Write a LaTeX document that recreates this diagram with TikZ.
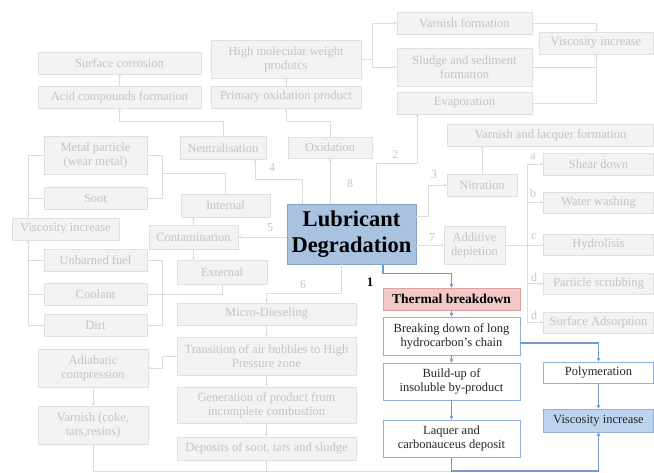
\documentclass[tikz,border=0pt]{standalone}
\usepackage{fontspec}
\setmainfont{Liberation Serif}
\usepackage{tikz}
\usetikzlibrary{arrows.meta}

\definecolor{gfill}{HTML}{F3F3F3}
\definecolor{gdraw}{HTML}{E0E0E0}
\definecolor{gtext}{HTML}{C4C4C4}
\definecolor{gconn}{HTML}{DCDCDC}
\definecolor{lubfill}{HTML}{A8C2E0}
\definecolor{lubdraw}{HTML}{7FA3CD}
\definecolor{thfill}{HTML}{F2C8C8}
\definecolor{thdraw}{HTML}{E0A0A0}
\definecolor{bdraw}{HTML}{8DB1DC}
\definecolor{vfill}{HTML}{BDD3EE}
\definecolor{bconn}{HTML}{6E9BD1}

\begin{document}
\begin{tikzpicture}[x=1pt,y=-1pt,
    sz/.style 2 args={minimum width=#1pt,minimum height=#2pt},
    gbox/.style={draw=gdraw,fill=gfill,text=gtext,align=center,inner sep=1pt,
        font=\fontsize{12.5}{14}\selectfont},
    bbox/.style={draw=bdraw,fill=white,text=black!85,align=center,inner sep=1pt,
        line width=0.8pt,font=\fontsize{12.5}{14}\selectfont},
    gline/.style={draw=gconn,line width=0.8pt},
    garr/.style={gline,-{Stealth[length=3pt,width=3pt]}},
    bline/.style={draw=bconn,line width=1.4pt},
    barr/.style={bline,-{Stealth[length=4pt,width=4pt]}},
    glab/.style={text=gtext,font=\fontsize{12}{14}\selectfont}]
    \useasboundingbox (0,0) rectangle (654,473);

    \node[gbox,sz={163}{22}] (surf) at (119.5,63) {Surface corrosion};
    \node[gbox,sz={163}{22}] (acid) at (119.5,97) {Acid compounds formation};
    \node[gbox,sz={150}{38}] (highmw) at (286,59) {High molecular weight\\produtcs};
    \node[gbox,sz={150}{22}] (primox) at (286,97) {Primary oxidation product};
    \node[gbox,sz={135}{22}] (varnf) at (464.5,23) {Varnish formation};
    \node[gbox,sz={135}{38}] (sludge) at (464.5,67) {Sludge and sediment\\formation};
    \node[gbox,sz={135}{22}] (evap) at (464.5,103) {Evaporation};
    \node[gbox,sz={114}{22}] (visctop) at (596,43) {Viscosity increase};
    \node[gbox,sz={206}{22}] (varlac) at (550.5,135) {Varnish and lacquer formation};

    \node[gbox,sz={103}{38}] (metal) at (95.5,155) {Metal particle\\(wear metal)};
    \node[gbox,sz={103}{22}] (soot) at (95.5,198) {Soot};
    \node[gbox,sz={107}{22}] (viscl) at (65.5,229) {Viscosity increase};
    \node[gbox,sz={103}{22}] (unb) at (95.5,260) {Unbarned fuel};
    \node[gbox,sz={103}{22}] (cool) at (95.5,294) {Coolant};
    \node[gbox,sz={103}{22}] (dirt) at (95.5,325) {Dirt};
    \node[gbox,sz={86}{23}] (neut) at (223,148) {Neutralisation};
    \node[gbox,sz={89}{23}] (internal) at (225.5,205.5) {Internal};
    \node[gbox,sz={89}{24}] (contam) at (193.5,237) {Contamination};
    \node[gbox,sz={90}{24}] (external) at (222,272) {External};
    \node[gbox,sz={84}{21}] (oxid) at (330,147.5) {Oxidation};
    \node[gbox,sz={70}{22}] (nitr) at (482,185) {Nitration};
    \node[gbox,sz={61}{38}] (addit) at (474.5,245) {Additive\\depletion};

    \node[gbox,sz={110}{22}] (shear) at (598.5,164) {Shear down};
    \node[gbox,sz={110}{21}] (water) at (598.5,202.5) {Water washing};
    \node[gbox,sz={110}{21}] (hydro) at (598.5,245) {Hydrolisis};
    \node[gbox,sz={110}{21}] (partic) at (598.5,283.5) {Particle scrubbing};
    \node[gbox,sz={110}{21}] (surfads) at (598.5,322.5) {Surface Adsorption};

    \node[gbox,sz={179}{22}] (micro) at (266.5,314) {Micro-Dieseling};
    \node[gbox,sz={179}{38}] (trans) at (266.5,356) {Transition of air bubbles to High\\Pressure zone};
    \node[gbox,sz={179}{36}] (gener) at (266.5,405) {Generation of product from\\incomplete combustion};
    \node[gbox,sz={179}{23}] (depos) at (266.5,448.5) {Deposits of soot, tars and sludge};
    \node[gbox,sz={110}{38}] (adiab) at (93,368) {Adiabatic\\compression};
    \node[gbox,sz={110}{38}] (varcoke) at (93,425) {Varnish (coke,\\tars,resins)};

    \node[draw=lubdraw,fill=lubfill,line width=0.8pt,align=center,inner sep=1pt,sz={129}{60},
        font=\fontsize{22.5}{26}\selectfont\bfseries] (lub) at (351.5,234) {Lubricant\\Degradation};
    \node[draw=thdraw,fill=thfill,line width=0.8pt,inner sep=1pt,sz={137}{22},
        font=\fontsize{13.5}{15}\selectfont\bfseries] (thermal) at (451.5,299) {Thermal breakdown};
    \node[bbox,sz={137}{38}] (breaking) at (451.5,336) {Breaking down of long\\hydrocarbon's chain};
    \node[bbox,sz={137}{37}] (buildup) at (451.5,381.5) {Build-up of\\insoluble by-product};
    \node[bbox,sz={137}{37}] (laquer) at (451.5,438.5) {Laquer and\\carbonauceus deposit};
    \node[bbox,sz={110}{21}] (polym) at (598.5,372.5) {Polymeration};
    \node[bbox,fill=vfill,sz={110}{23}] (viscb) at (598.5,420.5) {Viscosity increase};

    \coordinate (hm) at (372,59);
    \coordinate (br) at (527,245);
    \coordinate (ms) at (162,173);
    \coordinate (bot) at (0,471);

    \draw[garr] (acid) -- (surf);
    \draw[garr] (neut.north) -- ++(0,-15) -| (acid.south);
    \draw[garr] (primox) -- (highmw);
    \draw[garr] (oxid.north) -- ++(0,-15) -| (primox.south);
    \draw[gline] (highmw.east) -- (hm);
    \draw[garr] (hm) |- (varnf.west);
    \draw[garr] (hm) |- (sludge.west);
    \draw[garr] (varnf.east) -| (visctop.north);
    \draw[gline] (sludge.east) -| (visctop.south);
    \draw[garr] (evap.east) -| (visctop.south);

    \draw[garr] ([xshift=24.5pt]lub.north) -- ++(0,-40) -| ([xshift=-47.5pt]evap.south);
    \draw[garr] ([yshift=18pt]lub.east) -- ++(12,0) |- (nitr.west);
    \draw[garr] (nitr.north) -- (nitr.north |- varlac.south);
    \draw[garr] (lub.east |- addit.west) -- (addit.west);
    \draw[garr] (lub.north -| oxid.south) -- (oxid.south);
    \draw[garr] ([xshift=-49.5pt]lub.north) -- ++(0,-24) -| ([xshift=32pt]neut.south);
    \draw[garr] (lub.west |- contam.east) -- (contam.east);
    \draw[garr] ([xshift=-10.5pt]lub.south) -- ++(0,29) -| (micro.north);

    \draw[gline] (addit.east) -- (br);
    \draw[garr] (br) |- (shear.west);
    \draw[garr] (br) |- (water.west);
    \draw[garr] (br) -- (hydro.west);
    \draw[garr] (br) |- (partic.west);
    \draw[garr] (br) |- (surfads.west);

    \draw[garr] (contam.north) -- (contam.north |- internal.south);
    \draw[garr] (contam.south) -- (contam.south |- external.north);
    \draw[gline] (metal.east) -- ++(15,0) |- (soot.east);
    \draw[gline] (ms) -| (internal.north);
    \draw[gline] (unb.east) -- ++(15,0) |- (dirt.east);
    \draw[gline] (external.south) |- (cool.east);
    \draw[garr] (metal.west) -| ([xshift=-37.5pt]viscl.north);
    \draw[gline] (soot.west) -- ++(-16,0);
    \draw[garr] (dirt.west) -| ([xshift=-37.5pt]viscl.south);
    \draw[gline] (unb.west) -- ++(-16,0);
    \draw[gline] (cool.west) -- ++(-16,0);

    \draw[garr] (micro) -- (trans);
    \draw[garr] (trans) -- (gener);
    \draw[garr] (gener) -- (depos);
    \draw[garr] (trans.west) -- ++(-14,0) |- (adiab.east);
    \draw[garr] (adiab) -- (varcoke);
    \draw[gline] (varcoke.south) |- (laquer.south |- bot);
    \draw[gline] (depos.south) -- (depos.south |- bot);

    \draw[barr] ([xshift=31.5pt]lub.south) -- ++(0,9) -| (thermal.north);
    \draw[barr] (thermal) -- (breaking);
    \draw[barr] (breaking) -- (buildup);
    \draw[barr] (buildup) -- (laquer);
    \draw[barr] ([yshift=-7pt]breaking.east) -| (polym.north);
    \draw[barr] (polym) -- (viscb);
    \draw[barr] (laquer.south) -- (laquer.south |- bot) -| (viscb.south);

    \node[glab] (n2) at (395,155) {2};
    \node[glab] (n3) at (434,175) {3};
    \node[glab] (n4) at (272,168) {4};
    \node[glab] (n5) at (270,228) {5};
    \node[glab] (n6) at (303,285) {6};
    \node[glab] (n7) at (432,238) {7};
    \node[glab] (n8) at (350,184) {8};
    \node[font=\fontsize{13}{14}\selectfont\bfseries] (n1) at (370,282) {1};
    \node[glab] (la) at (533,157) {a};
    \node[glab] (lb) at (533,193) {b};
    \node[glab] (lc) at (534,237) {c};
    \node[glab] (ld) at (534,277) {d};
    \node[glab] (le) at (534,315) {d};
\end{tikzpicture}
\end{document}
